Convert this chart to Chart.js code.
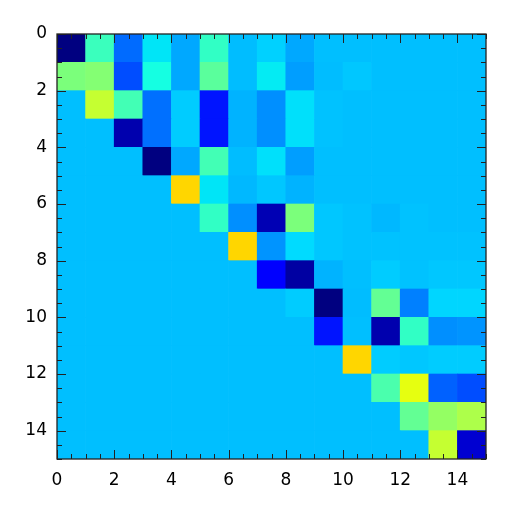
<!DOCTYPE html>
<html><head><meta charset="utf-8">
<script src="https://cdn.jsdelivr.net/npm/chart.js@4"></script>
<style>html,body{margin:0;padding:0;background:#fff}#wrap{width:512px;height:512px}</style>
</head><body><div id="wrap"><canvas id="c" width="512" height="512"></canvas></div>
<script>
// values expressed as positions on the jet colour scale (0 = dark blue, 1 = dark red)
const row0  = [0.00,0.42,0.23,0.35,0.29,0.41,0.31,0.33,0.29,0.3125,0.3125,0.3125,0.3125,0.3125,0.3125];
const row1  = [0.50,0.51,0.20,0.375,0.29,0.46,0.31,0.355,0.28,0.31,0.32,0.3125,0.3125,0.3125,0.3125];
const row2  = [0.3125,0.59,0.43,0.235,0.325,0.145,0.30,0.265,0.345,0.315,0.3125,0.3125,0.3125,0.3125,0.3125];
const row3  = [0.3125,0.3125,0.04,0.235,0.325,0.145,0.30,0.265,0.345,0.315,0.3125,0.3125,0.3125,0.3125,0.3125];
const row4  = [0.3125,0.3125,0.3125,0.00,0.29,0.43,0.31,0.345,0.28,0.3125,0.3125,0.3125,0.3125,0.3125,0.3125];
const row5  = [0.3125,0.3125,0.3125,0.3125,0.683,0.35,0.305,0.32,0.30,0.3125,0.3125,0.3125,0.3125,0.3125,0.3125];
const row6  = [0.3125,0.3125,0.3125,0.3125,0.3125,0.41,0.265,0.045,0.50,0.32,0.315,0.305,0.315,0.3125,0.3125];
const row7  = [0.3125,0.3125,0.3125,0.3125,0.3125,0.3125,0.683,0.27,0.34,0.32,0.315,0.315,0.315,0.315,0.315];
const row8  = [0.3125,0.3125,0.3125,0.3125,0.3125,0.3125,0.3125,0.12,0.03,0.30,0.3125,0.325,0.315,0.32,0.32];
const row9  = [0.3125,0.3125,0.3125,0.3125,0.3125,0.3125,0.3125,0.3125,0.325,0.00,0.31,0.47,0.25,0.335,0.335];
const row10 = [0.3125,0.3125,0.3125,0.3125,0.3125,0.3125,0.3125,0.3125,0.3125,0.145,0.3125,0.04,0.41,0.265,0.27];
const row11 = [0.3125,0.3125,0.3125,0.3125,0.3125,0.3125,0.3125,0.3125,0.3125,0.3125,0.683,0.325,0.32,0.325,0.325];
const row12 = [0.3125,0.3125,0.3125,0.3125,0.3125,0.3125,0.3125,0.3125,0.3125,0.3125,0.3125,0.44,0.63,0.22,0.20];
const row13 = [0.3125,0.3125,0.3125,0.3125,0.3125,0.3125,0.3125,0.3125,0.3125,0.3125,0.3125,0.3125,0.47,0.53,0.56];
const row14 = [0.3125,0.3125,0.3125,0.3125,0.3125,0.3125,0.3125,0.3125,0.3125,0.3125,0.3125,0.3125,0.3125,0.59,0.07];
const rows = [row0,row1,row2,row3,row4,row5,row6,row7,row8,row9,row10,row11,row12,row13,row14];
const tickValues = [0,2,4,6,8,10,12,14];

function interp(pts, v){
  for(let i=0;i<pts.length-1;i++){
    const [a,va]=pts[i],[b,vb]=pts[i+1];
    if(v>=a&&v<=b){return va+(vb-va)*(v-a)/(b-a);}
  }
  return pts[pts.length-1][1];
}
function jet(v){
  const r=interp([[0,0],[0.35,0],[0.66,1],[0.89,1],[1,0.5]],v);
  const g=interp([[0,0],[0.125,0],[0.375,1],[0.64,1],[0.91,0],[1,0]],v);
  const b=interp([[0,0.5],[0.11,1],[0.34,1],[0.65,0],[1,0]],v);
  return `rgb(${Math.round(r*255)},${Math.round(g*255)},${Math.round(b*255)})`;
}

const cells=[], colors=[];
rows.forEach((row,r)=>row.forEach((v,c)=>{cells.push({x:c+0.5,y:[r,r+1]});colors.push(jet(v));}));

const tickPlugin={
  id:'inTicks',
  afterDatasetsDraw(chart){
    const {ctx,chartArea:a,scales:{x,y}}=chart;
    ctx.save();
    ctx.strokeStyle='#222';
    ctx.lineWidth=1;
    ctx.beginPath();
    for(let v=0;v<=15;v+=0.5){
      const len=(v%2===0)?9:5;
      const px=Math.round(x.getPixelForValue(v))+0.5;
      ctx.moveTo(px,a.bottom);ctx.lineTo(px,a.bottom-len);
      ctx.moveTo(px,a.top);ctx.lineTo(px,a.top+len);
      const py=Math.round(y.getPixelForValue(v))+0.5;
      ctx.moveTo(a.left,py);ctx.lineTo(a.left+len,py);
      ctx.moveTo(a.right,py);ctx.lineTo(a.right-len,py);
    }
    ctx.stroke();
    ctx.lineWidth=1.3;
    ctx.strokeStyle='#222';
    ctx.strokeRect(a.left,a.top,a.right-a.left,a.bottom-a.top);
    ctx.restore();
  }
};

new Chart(document.getElementById('c'),{
  type:'bar',
  data:{datasets:[{data:cells,backgroundColor:colors,borderWidth:0,categoryPercentage:1,barPercentage:1,grouped:false}]},
  options:{
    responsive:false,animation:false,
    layout:{padding:{top:34,right:26,left:0,bottom:0}},
    plugins:{legend:{display:false},tooltip:{enabled:false}},
    scales:{
      x:{type:'linear',min:0,max:15,offset:false,
        grid:{display:false,drawTicks:false,offset:false},border:{display:false},
        afterBuildTicks(s){s.ticks=tickValues.map(v=>({value:v}));},
        afterFit(s){s.height=53;},
        ticks:{padding:11,color:'#000',font:{family:'DejaVu Sans',size:17},maxRotation:0,autoSkip:false}},
      y:{type:'linear',min:0,max:15,reverse:true,
        grid:{display:false,drawTicks:false},border:{display:false},
        afterBuildTicks(s){s.ticks=tickValues.map(v=>({value:v}));},
        afterFit(s){s.width=57;},
        ticks:{padding:10,color:'#000',font:{family:'DejaVu Sans',size:17},autoSkip:false}}
    }
  },
  plugins:[tickPlugin]
});
</script></body></html>
